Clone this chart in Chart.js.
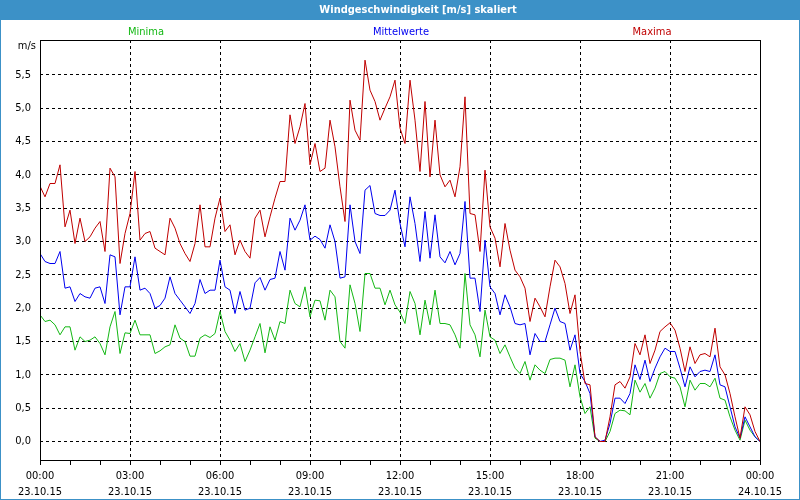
<!DOCTYPE html>
<html>
<head>
<meta charset="utf-8">
<script src="https://cdn.jsdelivr.net/npm/chart.js@4.4.1/dist/chart.umd.min.js"></script>
<style>
  html, body { margin: 0; padding: 0; background: #fff; }
  #wrap { width: 800px; height: 500px; }
</style>
</head>
<body>
<div id="wrap"><canvas id="chartCanvas" width="800" height="500"></canvas></div>
<script>
// 10-minute values, 23.10.15 00:00 .. 24.10.15 00:00
let maxima = [
  3.83, 3.67, 3.87, 3.87, 4.15, 3.22, 3.47, 2.97, 3.35, 3.0, 3.07, 3.2, 3.3, 2.85, 4.1, 3.97, 2.67, 3.12, 3.42, 4.05, 3.02, 3.12, 3.15, 2.9, 2.85,
  2.8, 3.35, 3.2, 2.97, 2.82, 2.7, 2.97, 3.55, 2.92, 2.92, 3.35, 3.65, 3.15, 3.25, 2.8, 3.02, 2.85, 2.75, 3.35, 3.47, 3.07, 3.37, 3.65, 3.9,
  3.9, 4.9, 4.47, 4.72, 5.07, 4.15, 4.47, 4.05, 4.1, 4.82, 4.42, 3.82, 3.3, 5.12, 4.67, 4.52, 5.72, 5.27, 5.1, 4.82, 5.0, 5.17, 5.42, 4.7,
  4.47, 5.42, 4.82, 4.05, 5.1, 3.97, 4.82, 4.0, 3.82, 3.92, 3.67, 4.12, 5.17, 3.42, 3.4, 2.85, 4.07, 3.22, 3.05, 2.62, 3.27, 2.87, 2.57, 2.47,
  2.3, 1.8, 2.15, 2.02, 1.87, 2.32, 2.72, 2.62, 2.37, 1.92, 2.2, 1.35, 0.87, 0.85, 0.07, 0.0, 0.0, 0.37, 0.85, 0.9, 0.8, 0.97, 1.47, 1.3,
  1.6, 1.17, 1.37, 1.65, 1.72, 1.78, 1.67, 1.4, 1.05, 1.42, 1.17, 1.3, 1.32, 1.27, 1.7, 1.12, 1.0, 0.72, 0.37, 0.05, 0.52, 0.4, 0.15, 0.0
];
let mittelwerte = [
  2.82, 2.7, 2.67, 2.67, 2.85, 2.3, 2.32, 2.1, 2.22, 2.17, 2.15, 2.3, 2.32, 2.07, 2.8, 2.77, 1.9, 2.32, 2.32, 2.77, 2.27, 2.3, 2.22, 2.0, 2.04,
  2.15, 2.47, 2.22, 2.12, 2.02, 1.92, 2.07, 2.43, 2.22, 2.27, 2.27, 2.72, 2.32, 2.27, 1.92, 2.25, 1.97, 2.0, 2.38, 2.46, 2.27, 2.43, 2.45, 2.85,
  2.57, 3.35, 3.17, 3.32, 3.55, 3.02, 3.08, 3.03, 2.9, 3.25, 3.0, 2.45, 2.47, 3.55, 3.0, 2.82, 3.77, 3.84, 3.42, 3.39, 3.39, 3.47, 3.77, 3.27,
  2.92, 3.67, 3.27, 2.7, 3.45, 2.75, 3.4, 2.77, 2.68, 2.85, 2.65, 2.82, 3.6, 2.45, 2.45, 1.95, 3.02, 2.32, 2.22, 1.9, 2.2, 2.02, 1.77, 1.75,
  1.77, 1.3, 1.62, 1.5, 1.5, 1.75, 2.0, 1.8, 1.77, 1.37, 1.6, 1.02, 0.9, 0.72, 0.07, 0.0, 0.02, 0.27, 0.65, 0.65, 0.57, 0.72, 1.15, 0.93,
  1.22, 0.9, 1.1, 1.27, 1.4, 1.35, 1.35, 1.1, 0.82, 1.12, 0.97, 1.05, 1.07, 1.05, 1.3, 0.85, 0.82, 0.52, 0.22, 0.05, 0.37, 0.22, 0.07, 0.0
];
let minima = [
  1.9, 1.8, 1.82, 1.75, 1.6, 1.72, 1.72, 1.37, 1.57, 1.5, 1.52, 1.57, 1.47, 1.3, 1.72, 1.95, 1.32, 1.63, 1.62, 1.82, 1.6, 1.6, 1.6, 1.32, 1.36,
  1.42, 1.45, 1.75, 1.55, 1.5, 1.28, 1.28, 1.55, 1.6, 1.56, 1.62, 1.95, 1.65, 1.52, 1.35, 1.47, 1.2, 1.37, 1.57, 1.77, 1.33, 1.72, 1.52, 1.8,
  1.77, 2.27, 2.07, 2.02, 2.32, 1.87, 2.12, 2.11, 1.82, 2.27, 2.17, 1.5, 1.4, 2.35, 2.07, 1.65, 2.52, 2.52, 2.3, 2.3, 2.05, 2.27, 2.05, 1.94,
  1.77, 2.25, 2.07, 1.6, 2.12, 1.75, 2.27, 1.77, 1.77, 1.75, 1.6, 1.4, 2.52, 1.75, 1.6, 1.27, 1.97, 1.57, 1.52, 1.32, 1.45, 1.27, 1.1, 1.02,
  1.2, 0.92, 1.15, 1.07, 1.02, 1.23, 1.25, 1.25, 1.22, 0.82, 1.15, 0.67, 0.42, 0.52, 0.05, 0.0, 0.0, 0.15, 0.42, 0.47, 0.46, 0.4, 0.92, 0.74,
  0.87, 0.65, 0.8, 1.02, 1.05, 0.97, 0.95, 0.82, 0.52, 0.92, 0.77, 0.87, 0.87, 0.82, 0.95, 0.65, 0.62, 0.37, 0.17, 0.02, 0.32, 0.17, 0.07, 0.0
];
let stepMinutes = 10;

let yTicks = [0, 0.5, 1, 1.5, 2, 2.5, 3, 3.5, 4, 4.5, 5, 5.5];
let xTimes = ['00:00', '03:00', '06:00', '09:00', '12:00', '15:00', '18:00', '21:00', '00:00'];
let xDates = ['23.10.15', '23.10.15', '23.10.15', '23.10.15', '23.10.15', '23.10.15', '23.10.15', '23.10.15', '24.10.15'];

let titleText = 'Windgeschwindigkeit [m/s] skaliert';
let seriesNames = ['Minima', 'Mittelwerte', 'Maxima'];
let seriesColors = ['#14b814', '#0000f0', '#c00000'];

let fontFamily = "'DejaVu Sans Condensed', 'DejaVu Sans', sans-serif";

function toPoints(values) {
  return values.map((v, i) => ({ x: i * stepMinutes, y: v }));
}

// title bar, window border, plot frame and the series captions
let windowFrame = {
  id: 'windowFrame',
  beforeDraw(chart) {
    let c = chart.ctx;
    c.save();
    c.fillStyle = '#fff';
    c.fillRect(0, 0, chart.width, chart.height);
    c.restore();
  },
  afterDraw(chart) {
    let c = chart.ctx;
    let a = chart.chartArea;
    c.save();
    c.strokeStyle = '#000';
    c.lineWidth = 1;
    c.strokeRect(a.left + 0.5, a.top + 0.5, a.right - a.left, a.bottom - a.top);

    c.fillStyle = '#3c91c7';
    c.fillRect(0, 0, chart.width, 20);
    c.strokeStyle = '#3c91c7';
    c.strokeRect(0.5, 0.5, chart.width - 1, chart.height - 1);

    c.fillStyle = '#fff';
    c.font = 'bold 11px ' + fontFamily;
    c.textAlign = 'center';
    c.textBaseline = 'middle';
    c.fillText(titleText, 418, 10);

    c.font = '11px ' + fontFamily;
    let capX = [146, 401, 652];
    seriesNames.forEach((name, k) => {
      c.fillStyle = seriesColors[k];
      c.fillText(name, capX[k], 32);
    });

    c.fillStyle = '#000';
    c.textAlign = 'right';
    c.fillText('m/s', 36, 46);
    c.restore();
  }
};

let ctx = document.getElementById('chartCanvas').getContext('2d');
let chartInstance = new Chart(ctx, {
  type: 'line',
  data: {
    datasets: [
      { label: 'Maxima', data: toPoints(maxima), borderColor: seriesColors[2] },
      { label: 'Mittelwerte', data: toPoints(mittelwerte), borderColor: seriesColors[1] },
      { label: 'Minima', data: toPoints(minima), borderColor: seriesColors[0] }
    ]
  },
  options: {
    responsive: false,
    animation: false,
    layout: { padding: { left: 0, top: 40, right: 40, bottom: 0 } },
    elements: {
      line: { borderWidth: 1, tension: 0, fill: false },
      point: { radius: 0 }
    },
    plugins: {
      legend: { display: false },
      tooltip: { enabled: false },
      title: { display: false }
    },
    scales: {
      x: {
        type: 'linear',
        min: 0,
        max: 1440,
        afterFit: (scale) => { scale.height = 40; },
        afterBuildTicks: (scale) => {
          scale.ticks = Array.from({ length: 25 }, (_, h) => ({ value: h * 60 }));
        },
        ticks: {
          autoSkip: false,
          maxRotation: 0,
          padding: 3,
          color: '#000',
          font: { family: fontFamily, size: 11, lineHeight: 1.45 },
          callback: (v) => {
            let k = v / 180;
            return Number.isInteger(k) ? [xTimes[k], xDates[k]] : '';
          }
        },
        grid: {
          color: (c) => (c.tick && c.tick.value % 180 === 0) ? '#000' : 'rgba(0,0,0,0)',
          tickColor: '#000',
          tickLength: 5,
          lineWidth: 1
        },
        border: { display: false, dash: [3, 3] }
      },
      y: {
        min: -0.2775,
        max: 6.0225,
        afterFit: (scale) => { scale.width = 40; },
        afterBuildTicks: (scale) => {
          scale.ticks = yTicks.map(v => ({ value: v }));
        },
        ticks: {
          padding: 9,
          color: '#000',
          font: { family: fontFamily, size: 11 },
          callback: (v) => v.toFixed(1).replace('.', ',')
        },
        grid: {
          color: '#000',
          drawTicks: false,
          lineWidth: 1
        },
        border: { display: false, dash: [3, 3] }
      }
    }
  },
  plugins: [windowFrame]
});
</script>
</body>
</html>
